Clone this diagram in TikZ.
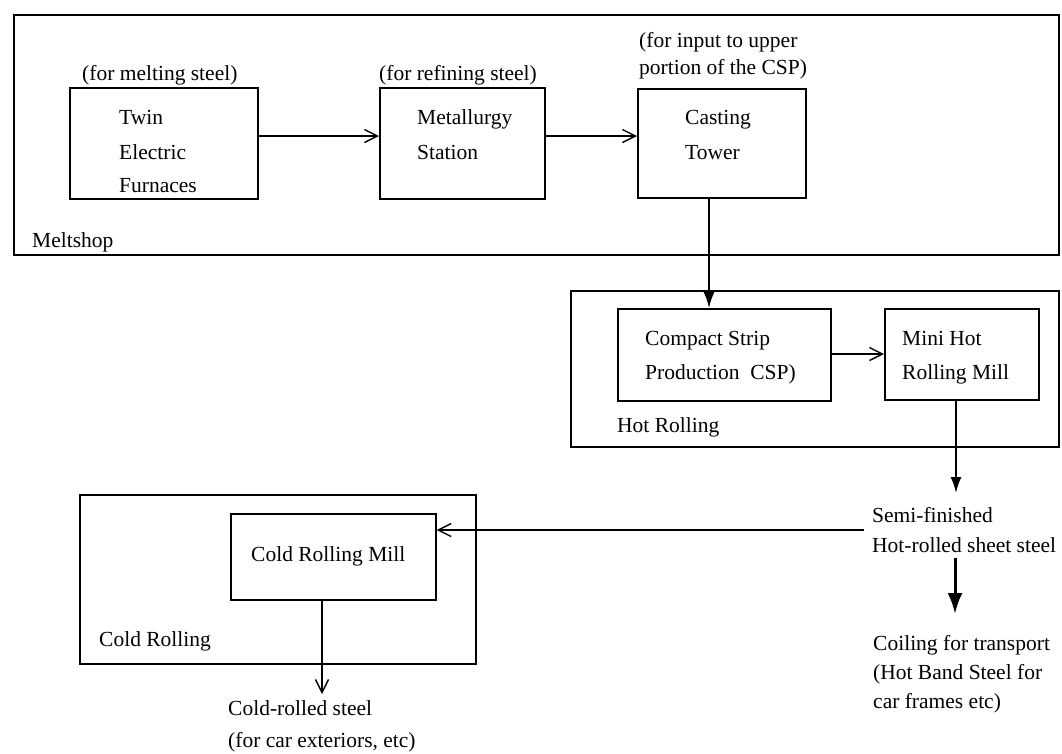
\documentclass[tikz,border=0pt]{standalone}
\usepackage{fontspec}
\setmainfont{Liberation Serif}
\usetikzlibrary{arrows.meta}

\begin{document}
\begin{tikzpicture}[x=1pt,y=-1pt,
  box/.style={draw, line width=1.6pt, inner sep=0pt, anchor=north west},
  lbl/.style={anchor=base west, inner sep=0pt, font=\fontsize{21.5}{26}\selectfont},
  thin/.style={line width=1.4pt, -{Straight Barb[length=13pt,width=13pt,line width=1.4pt]}},
  feed/.style={line width=1.8pt, -{Latex[length=16pt,width=11pt]}},
  heavy/.style={line width=3pt, -{Latex[length=21pt,width=15pt]}}]

\useasboundingbox (0,0) rectangle (1062,753);

% ---- Meltshop ----
\node[box, minimum width=1045pt, minimum height=240pt] (melt) at (13,14) {};
\node[box, minimum width=188pt, minimum height=111pt] (twin) at (69,87) {};
\node[box, minimum width=165pt, minimum height=111pt] (metal) at (379,87) {};
\node[box, minimum width=168pt, minimum height=109pt] (cast) at (637,88) {};

\node[lbl] (twinnote) at (82,80) {(for melting steel)};
\node[lbl] (twin1) at (119,124) {Twin};
\node[lbl] (twin2) at (119,159) {Electric};
\node[lbl] (twin3) at (119,192) {Furnaces};

\node[lbl] (metalnote) at (379,80) {(for refining steel)};
\node[lbl] (metal1) at (417,124) {Metallurgy};
\node[lbl] (metal2) at (417,159) {Station};

\node[lbl] (castnote1) at (639,47) {(for input to upper};
\node[lbl] (castnote2) at (639,74) {portion of the CSP)};
\node[lbl] (cast1) at (685,124) {Casting};
\node[lbl] (cast2) at (685,159) {Tower};

\node[lbl] (meltname) at (32,247) {Meltshop};

% ---- Hot Rolling ----
\node[box, minimum width=488pt, minimum height=156pt] (hot) at (570,290) {};
\node[box, minimum width=213pt, minimum height=92pt] (csp) at (617,308) {};
\node[box, minimum width=154pt, minimum height=91pt] (mini) at (884,308) {};

\node[lbl] (csp1) at (645,345) {Compact Strip};
\node[lbl] (csp2) at (645,379) {Production\ \ CSP)};
\node[lbl] (mini1) at (902,345) {Mini Hot};
\node[lbl] (mini2) at (902,379) {Rolling Mill};
\node[lbl] (hotname) at (617,432) {Hot Rolling};

% ---- Products of hot rolling ----
\node[lbl] (semi1) at (872,522) {Semi-finished};
\node[lbl] (semi2) at (872,552) {Hot-rolled sheet steel};
\node[lbl] (coil1) at (873,650) {Coiling for transport};
\node[lbl] (coil2) at (873,679) {(Hot Band Steel for};
\node[lbl] (coil3) at (873,708) {car frames etc)};

% ---- Cold Rolling ----
\node[box, minimum width=396pt, minimum height=169pt] (cold) at (79,494) {};
\node[box, minimum width=205pt, minimum height=86pt] (crm) at (230,513) {};
\node[lbl] (crm1) at (251,561) {Cold Rolling Mill};
\node[lbl] (coldname) at (99,646) {Cold Rolling};
\node[lbl] (out1) at (228,715) {Cold-rolled steel};
\node[lbl] (out2) at (228,747) {(for car exteriors, etc)};

% ---- free ends of connectors ----
\coordinate (semitop) at (956,493);
\coordinate (semibot) at (955,558);
\coordinate (coiltop) at (955,614);
\coordinate (semileft) at (864,530);
\coordinate (outtop) at (322,694);

% ---- connectors ----
\draw[thin] (twin.east |- 0,136) -- (metal.west |- 0,136);
\draw[thin] (metal.east |- 0,136) -- (cast.west |- 0,136);
\draw[feed] (709,0 |- cast.south) -- (709,0 |- csp.north);
\draw[thin] (csp.east |- 0,354) -- (mini.west |- 0,354);
\draw[feed] (956,0 |- mini.south) -- (semitop);
\draw[heavy] (semibot) -- (coiltop);
\draw[thin] (semileft) -- (crm.east |- semileft);
\draw[thin] (322,0 |- crm.south) -- (outtop);

\end{tikzpicture}
\end{document}
